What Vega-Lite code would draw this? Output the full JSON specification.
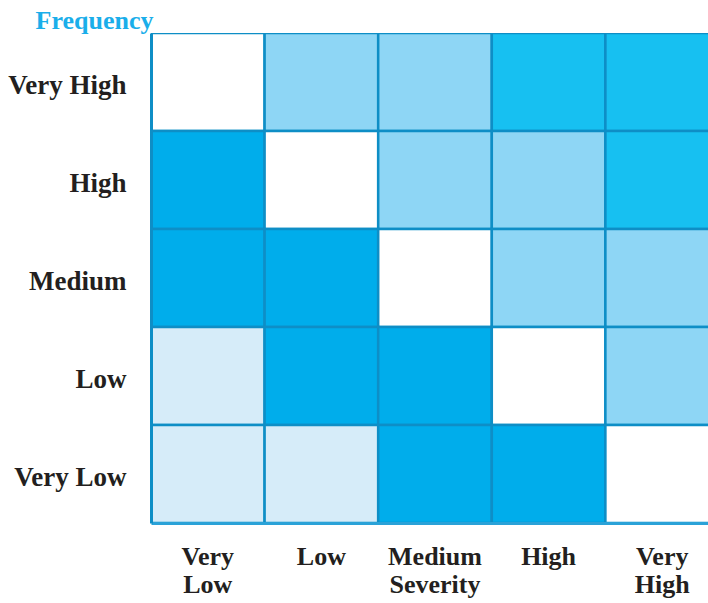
{
  "$schema": "https://vega.github.io/schema/vega-lite/v6.json",
  "autosize": "none",
  "width": 557,
  "height": 490,
  "padding": {"left": 151, "top": 33, "right": 0, "bottom": 80},
  "background": "white",
  "config": {"view": {"stroke": null}},
  "data": {
    "values": [
      {"severity": "Very Low", "frequency": "Very High", "level": "none"},
      {"severity": "Low", "frequency": "Very High", "level": "mid"},
      {"severity": "Medium Severity", "frequency": "Very High", "level": "mid"},
      {"severity": "High", "frequency": "Very High", "level": "high"},
      {"severity": "Very High", "frequency": "Very High", "level": "high"},
      {"severity": "Very Low", "frequency": "High", "level": "vhigh"},
      {"severity": "Low", "frequency": "High", "level": "none"},
      {"severity": "Medium Severity", "frequency": "High", "level": "mid"},
      {"severity": "High", "frequency": "High", "level": "mid"},
      {"severity": "Very High", "frequency": "High", "level": "high"},
      {"severity": "Very Low", "frequency": "Medium", "level": "vhigh"},
      {"severity": "Low", "frequency": "Medium", "level": "vhigh"},
      {"severity": "Medium Severity", "frequency": "Medium", "level": "none"},
      {"severity": "High", "frequency": "Medium", "level": "mid"},
      {"severity": "Very High", "frequency": "Medium", "level": "mid"},
      {"severity": "Very Low", "frequency": "Low", "level": "low"},
      {"severity": "Low", "frequency": "Low", "level": "vhigh"},
      {"severity": "Medium Severity", "frequency": "Low", "level": "vhigh"},
      {"severity": "High", "frequency": "Low", "level": "none"},
      {"severity": "Very High", "frequency": "Low", "level": "mid"},
      {"severity": "Very Low", "frequency": "Very Low", "level": "low"},
      {"severity": "Low", "frequency": "Very Low", "level": "low"},
      {"severity": "Medium Severity", "frequency": "Very Low", "level": "vhigh"},
      {"severity": "High", "frequency": "Very Low", "level": "vhigh"},
      {"severity": "Very High", "frequency": "Very Low", "level": "none"}
    ]
  },
  "mark": {"type": "rect", "stroke": "#0e8ec6", "strokeWidth": 2.5, "clip": true},
  "encoding": {
    "x": {
      "field": "severity",
      "type": "ordinal",
      "sort": ["Very Low", "Low", "Medium Severity", "High", "Very High"],
      "scale": {"range": [0, 568], "paddingInner": 0, "paddingOuter": 0},
      "axis": {
        "title": null,
        "labelAngle": 0,
        "ticks": false,
        "labelPadding": 20,
        "labelExpr": "split(datum.label, ' ')",
        "labelFont": "Liberation Serif",
        "labelFontWeight": "bold",
        "labelFontSize": 26,
        "labelLineHeight": 28,
        "labelColor": "#231f20",
        "labelBaseline": "top",
        "domainColor": "#2aa2d8",
        "domainWidth": 3
      }
    },
    "y": {
      "field": "frequency",
      "type": "ordinal",
      "sort": ["Very High", "High", "Medium", "Low", "Very Low"],
      "scale": {"paddingInner": 0, "paddingOuter": 0},
      "axis": {
        "title": "Frequency",
        "titleAngle": 0,
        "titleAlign": "left",
        "titleBaseline": "alphabetic",
        "titleX": -116,
        "titleY": -5,
        "titleFont": "Liberation Serif",
        "titleFontWeight": "bold",
        "titleFontSize": 26,
        "titleColor": "#1aaeea",
        "ticks": false,
        "labelPadding": 25,
        "labelOffset": 4,
        "labelFont": "Liberation Serif",
        "labelFontWeight": "bold",
        "labelFontSize": 27,
        "labelColor": "#231f20",
        "domainColor": "#0e8ec6",
        "domainWidth": 3
      }
    },
    "color": {
      "field": "level",
      "type": "nominal",
      "scale": {
        "domain": ["none", "low", "mid", "high", "vhigh"],
        "range": ["#ffffff", "#d6ecf9", "#8ed6f5", "#17c0f1", "#00adeb"]
      },
      "legend": null
    }
  }
}
